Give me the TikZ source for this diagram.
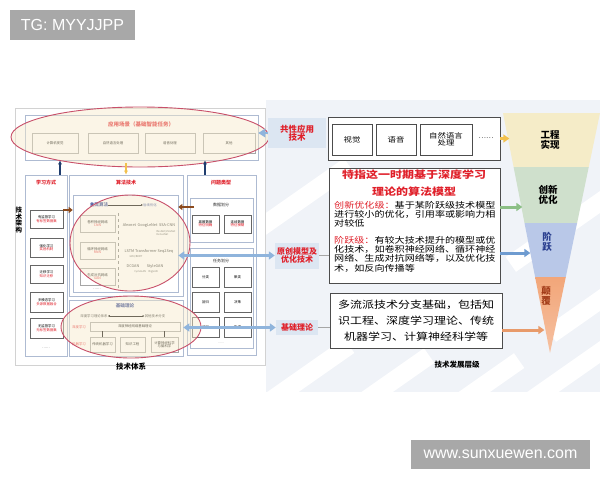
\documentclass[tikz,border=0pt]{standalone}
\usepackage{fontspec}
\setmainfont{Liberation Sans}
\newfontfamily\cjk{Noto Sans CJK SC}
\newfontfamily\cjkw{Noto Sans CJK SC}[FakeStretch=1.2]
\usetikzlibrary{arrows.meta,shapes.geometric}
\definecolor{rtxt}{HTML}{E0202A}
\definecolor{btxt}{HTML}{2A3F8F}
\definecolor{lblfill}{HTML}{DCE6F2}
\definecolor{larr}{HTML}{8FB4DC}
\definecolor{dkarr}{HTML}{1F3D6E}
\definecolor{brarr}{HTML}{8B4A1E}
\definecolor{yarr}{HTML}{F2C14E}
\definecolor{garr}{HTML}{8CBF86}
\definecolor{barr}{HTML}{6E9BD0}
\definecolor{oarr}{HTML}{E89A6A}
\definecolor{ellc}{HTML}{C8506A}
\definecolor{ellf}{HTML}{F7EBCB}
\definecolor{colc}{HTML}{AEBBD2}
\definecolor{fyel}{HTML}{F5ECC8}
\definecolor{fgrn}{HTML}{CFE0CC}
\definecolor{fblu}{HTML}{B9C8E8}
\definecolor{forg}{HTML}{F2A679}
\definecolor{wm}{HTML}{F0F3F8}
\definecolor{tagc}{HTML}{A8A8A8}
\newcommand\fsz[1]{\fontsize{#1}{#1}\selectfont}
\newcommand\rbox[7][]{\node[#1, minimum width={#4-#2}, minimum height={#5-#3}] (#6) at ({(#2+#4)/2},{(#3+#5)/2}) {#7};}
\tikzset{
  frame/.style={draw=gray!35, inner sep=0pt},
  colbox/.style={draw=colc, line width=0.6pt, inner sep=0pt},
  bx/.style={draw=gray!70, fill=white, inner sep=0pt, align=center, font=\cjk\fsz{3.4}},
  bx2/.style={draw=gray!80!black, line width=0.6pt, fill=white, inner sep=0pt, align=center, font=\cjk\fsz{3.4}},
  rtitle/.style={text=rtxt, font=\cjk\bfseries\fsz{5}, inner sep=0pt},
  btitle/.style={text=btxt, font=\cjk\bfseries\fsz{4.6}, inner sep=0pt},
  small/.style={font=\cjk\fsz{3.4}, inner sep=0pt, text=gray!30!black},
  lat/.style={font=\cjk\fsz{3.8}, inner sep=0pt, text=gray!30!black},
  latsm/.style={font=\cjk\fsz{2.6}, inner sep=0pt, text=gray!60!black},
  ellip/.style={draw=ellc, line width=0.9pt, fill=ellf, fill opacity=0.45},
  midlbl/.style={fill=lblfill, text=rtxt, font=\cjk\bfseries\fsz{8}, align=center, inner sep=0pt},
  rbx/.style={draw=gray!60!black, line width=0.7pt, fill=white, inner sep=0pt, align=center},
  ibx/.style={draw=gray!60!black, line width=0.6pt, fill=white, inner sep=0pt, align=center, font=\cjkw\fsz{7}},
  dkarrow/.style={draw=dkarr, line width=1.2pt, -{Latex[length=4pt,width=4pt]}},
  brarrow/.style={draw=brarr, line width=2pt, -{Triangle[length=4pt,width=6pt]}},
  yarrow/.style={draw=yarr, line width=1.2pt, -{Latex[length=4pt,width=4pt]}},
  bluearr/.style={draw=larr, line width=2.2pt},
  farr/.style={line width=3pt, -{Triangle[length=6pt,width=8pt]}},
  funlbl/.style={font=\cjk\bfseries\fsz{9.5}, align=center, inner sep=0pt},
  caption/.style={font=\cjk\bfseries\fsz{7.5}, inner sep=0pt},
  tag/.style={fill=tagc, text=white, font=\fsz{16}, inner sep=0pt}
}
\begin{document}
\begin{tikzpicture}[x=1pt,y=-1pt]
\useasboundingbox (0,0) rectangle (600,480);
\fill[white] (0,0) rectangle (600,480);
% faint watermark background
\fill[wm] (266,100) -- (600,100) -- (600,392) -- (266,392) -- cycle;
\begin{scope}
\clip (266,100) rectangle (600,392);
\foreach \cx/\cy in {300/380, 380/390, 470/395, 560/380, 300/200, 560/230, 600/300}{
  \fill[white, rotate around={35:(\cx,\cy)}] (\cx-60,\cy-9) rectangle (\cx+60,\cy+9);
}
\end{scope}

% ===== left panel =====
\rbox[frame]{15}{108}{265}{365}{lp}{}
\rbox[colbox]{25}{115}{258}{160}{app}{}
\node[rtitle, font=\cjk\bfseries\fsz{5.5}] (apptitle) at (141,124) {应用场景（基础智能任务）};
\rbox[bx]{32}{133}{78}{153}{a1}{计算机视觉}
\rbox[bx]{88}{133}{138}{153}{a2}{自然语言处理}
\rbox[bx]{145}{133}{195}{153}{a3}{语音处理}
\rbox[bx]{203}{133}{255}{153}{a4}{其他}

\node[font=\cjk\bfseries\fsz{6.5}, align=center, inner sep=0pt] (arch) at (19,220) {技\\术\\架\\构};

% learning column
\rbox[colbox]{25}{175}{67}{356}{lm}{}
\node[rtitle] (lmt) at (46,183) {学习方式};
\rbox[bx2]{30}{210}{63}{228}{l1}{有监督学习\\\textcolor{rtxt}{有标签数据集}}
\rbox[bx2]{30}{238}{63}{257}{l2}{强化学习\\\textcolor{rtxt}{奖励机制}}
\rbox[bx2]{30}{265}{63}{283}{l3}{迁移学习\\\textcolor{rtxt}{知识迁移}}
\rbox[bx2]{30}{292}{63}{312}{l4}{多模态学习\\\textcolor{rtxt}{多源数据融合}}
\rbox[bx2]{30}{318}{63}{338}{l5}{无监督学习\\\textcolor{rtxt}{无标签数据集}}
\node[small] (ld) at (46,348) {……};

% algorithm column
\rbox[colbox]{69}{175}{183}{296}{alg}{}
\node[rtitle] (algt) at (126,183) {算法技术};
\rbox[colbox]{73}{195}{178}{292}{algin}{}
\node[btitle] (mainalg) at (99,205) {主流算法};
\node[small, text=btxt] (opt) at (150,205) {后续优化};
\draw[-{Latex[length=2pt,width=2pt]}, line width=0.4pt] (mainalg) -- (opt);
\rbox[bx]{80}{215}{115}{232}{c1}{卷积神经网络\\\textcolor{rtxt}{CNN}}
\rbox[bx]{80}{242}{115}{259}{c2}{循环神经网络\\\textcolor{rtxt}{RNN}}
\rbox[bx]{80}{268}{115}{285}{c3}{生成对抗网络\\\textcolor{rtxt}{GAN}}
\node[small] (cd) at (97,289) {……};
\draw[dashed, gray, line width=0.3pt] (118,213) -- (118,290);
\node[lat] (n1) at (149,225) {Alexnet\ \ GoogLeNet\ \ SSA-CNN};
\node[latsm, align=left] (n1s) at (166,233) {ResNet/VGGNet\\DenseNet};
\node[lat] (n2) at (149,251) {LSTM Transformer Seq2Seq};
\node[latsm] (n2s) at (136,257) {GRU/BERT};
\node[lat] (n3) at (145,266) {DCGAN\qquad StyleGAN};
\node[latsm] (n3s) at (146,272) {CycleGAN\quad BigGAN};

% basic theory box
\rbox[colbox]{69}{300}{183}{356}{basic}{}
\node[btitle] (bt) at (125,306) {基础理论};
\node[small] (dl) at (94,316) {深度学习理论体系};
\node[small] (ob) at (155,316) {其他技术分支};
\draw[{Latex[length=2pt,width=2pt]}-{Latex[length=2pt,width=2pt]}, line width=0.4pt] (dl) -- (ob);
\node[small, text=rtxt] (rl1) at (79,327) {深度学习};
\node[small, text=rtxt] (rl2) at (79,344) {机器学习};
\rbox[bx]{90}{322}{180}{331}{dnn}{深度神经网络基础理论}
\rbox[bx]{90}{337}{115}{352}{t1}{传统机器学习}
\rbox[bx]{120}{337}{145}{352}{t2}{知识工程}
\rbox[bx]{151}{337}{178}{352}{t3}{计算神经科学\\与脑科学}
\draw[line width=0.3pt] (dnn.south -| t1.north) -- (t1.north);
\draw[line width=0.3pt] (dnn.south -| t3.north) -- (t3.north);

% problem column
\rbox[colbox]{187}{175}{256}{355}{pt}{}
\node[rtitle] (ptt) at (221,183) {问题类型};
\rbox[colbox]{190}{198}{253}{242}{dsub}{}
\node[small, font=\cjk\fsz{4}] (dst) at (221,205) {数据划分};
\rbox[bx2]{192}{215}{219}{233}{d1}{离散数据\\\textcolor{rtxt}{特征明确}}
\rbox[bx2]{224}{215}{251}{233}{d2}{连续数据\\\textcolor{rtxt}{特征模糊}}
\rbox[colbox]{190}{248}{253}{348}{tsub}{}
\node[small, font=\cjk\fsz{4}] (tst) at (221,261) {任务划分};
\rbox[bx2]{192}{267}{219}{287}{k1}{分类}
\rbox[bx2]{224}{267}{251}{287}{k2}{聚类}
\rbox[bx2]{192}{292}{219}{312}{k3}{回归}
\rbox[bx2]{224}{292}{251}{312}{k4}{决策}
\rbox[bx2]{192}{317}{219}{337}{k5}{识别}
\rbox[bx2]{224}{317}{251}{337}{k6}{生成}
\node[latsm] (kd) at (221,343) {……};

% ellipses
\draw[ellip] (140,137) ellipse [x radius=129, y radius=30];
\draw[ellip] (130,243) ellipse [x radius=60, y radius=48];
\draw[ellip] (131,327) ellipse [x radius=70, y radius=31];

% left panel arrows
\draw[dkarrow] (lm.north -| 60,0) -- (app.south -| 60,0);
\draw[dkarrow] (pt.north -| 205,0) -- (app.south -| 205,0);
\draw[yarrow] (app.south -| 126,0) ++(0,3) -- (alg.north -| 126,0);
\coordinate (bra) at (63,210);
\coordinate (brb) at (194,207);
\draw[brarrow] (bra) -- (algin.west |- bra);
\draw[brarrow] (brb) -- (algin.east |- brb);

\node[caption] (cap1) at (131,367) {技术体系};

% ===== middle labels =====
\node[midlbl, minimum width=58, minimum height=30, font=\cjk\bfseries\fsz{8.5}] (L1) at (297,133) {共性应用\\技术};
\node[midlbl, minimum width=44, minimum height=26] (L2) at (297,255.5) {原创模型及\\优化技术};
\node[midlbl, minimum width=42, minimum height=15] (L3) at (297,327.5) {基础理论};

\draw[bluearr, -] (app.east |- L1.west) ++(4,0) -- (L1.west);
\fill[larr] (app.east |- L1.west) -- ++(7,-4.5) -- ++(0,9) -- cycle;
\draw[bluearr, {Triangle[length=6pt,width=8pt]}-{Triangle[length=6pt,width=8pt]}] (algin.east |- L2.west) -- (L2.west);
\draw[bluearr, {Triangle[length=6pt,width=8pt]}-{Triangle[length=6pt,width=8pt]}] (basic.east |- L3.west) -- (L3.west);

% ===== right boxes =====
\rbox[rbx]{328}{117}{500}{160}{R1}{}
\rbox[ibx]{332}{124}{372}{155}{v1}{视觉}
\rbox[ibx]{376}{124}{416}{155}{v2}{语音}
\rbox[ibx]{420}{124}{472}{155}{v3}{自然语言\\处理}
\node[font=\cjk\fsz{7}, inner sep=0pt] (v4) at (486,138) {……};

\rbox[rbx]{329}{168}{500}{283}{R2}{}
\node[text=rtxt, font=\cjkw\bfseries\fsz{10}, inner sep=0pt] (r2t1) at (414,175) {特指这一时期基于深度学习};
\node[text=rtxt, font=\cjkw\bfseries\fsz{10}, inner sep=0pt] (r2t2) at (414,192) {理论的算法模型};
\begin{scope}[every node/.style={anchor=west, inner sep=0pt, font=\cjkw\fsz{8.4}}]
\node (b1) at (334,205) {\textcolor{rtxt}{创新优化级：}基于某阶跃级技术模型};
\node (b2) at (334,214) {进行较小的优化，引用率或影响力相};
\node (b3) at (334,223) {对较低};
\node (b4) at (334,240) {\textcolor{rtxt}{阶跃级：}有较大技术提升的模型或优};
\node (b5) at (334,249) {化技术，如卷积神经网络、循环神经};
\node (b6) at (334,258.5) {网络、生成对抗网络等，以及优化技};
\node (b7) at (334,268) {术，如反向传播等};
\end{scope}

\rbox[rbx]{330}{293}{502}{348}{R3}{}
\begin{scope}[every node/.style={inner sep=0pt, font=\cjkw\fsz{10}}]
\node (c31) at (416,305) {多流派技术分支基础，包括知};
\node (c32) at (416,321) {识工程、深度学习理论、传统};
\node (c33) at (416,337) {机器学习、计算神经科学等};
\end{scope}

\draw[gray!70, line width=0.5pt] (L2.east) -- (L2.east -| R2.west);
\draw[gray!70, line width=0.5pt] (L3.east) -- (L3.east -| R3.west);

\node[caption] (cap2) at (457,365) {技术发展层级};

% ===== funnel =====
\fill[fyel] (503,113) -- (600,113) -- (588.75,167) -- (513.6,167) -- cycle;
\fill[fgrn] (513.6,167) -- (588.75,167) -- (577.1,223) -- (524.5,223) -- cycle;
\fill[fblu] (524.5,223) -- (577.1,223) -- (565.8,277) -- (535.1,277) -- cycle;
\shade[top color=forg, bottom color=forg!70!white] (535.1,277) -- (565.8,277) -- (550,353) -- cycle;
\node[funlbl] (f1) at (550,140) {工程\\实现};
\node[funlbl] (f2) at (548,195) {创新\\优化};
\node[funlbl, text=btxt] (f3) at (547,242) {阶\\跃};
\node[funlbl, text=brarr!80!red] (f4) at (546,296) {颠\\覆};

\draw[farr, draw=yarr] (R1.east) -- ++(9,0);
\draw[farr, draw=garr] (R2.east |- 0,207) -- ++(22,0);
\draw[farr, draw=barr] (R2.east |- 0,253) -- ++(30,0);
\draw[farr, draw=oarr] (R3.east |- 0,330) -- ++(42,0);

% ===== tags =====
\node[tag, minimum width=125, minimum height=30] (tg) at (72.5,25) {TG: MYYJJPP};
\node[tag, minimum width=179, minimum height=29] (web) at (500.5,454.5) {www.sunxuewen.com};
\end{tikzpicture}
\end{document}
